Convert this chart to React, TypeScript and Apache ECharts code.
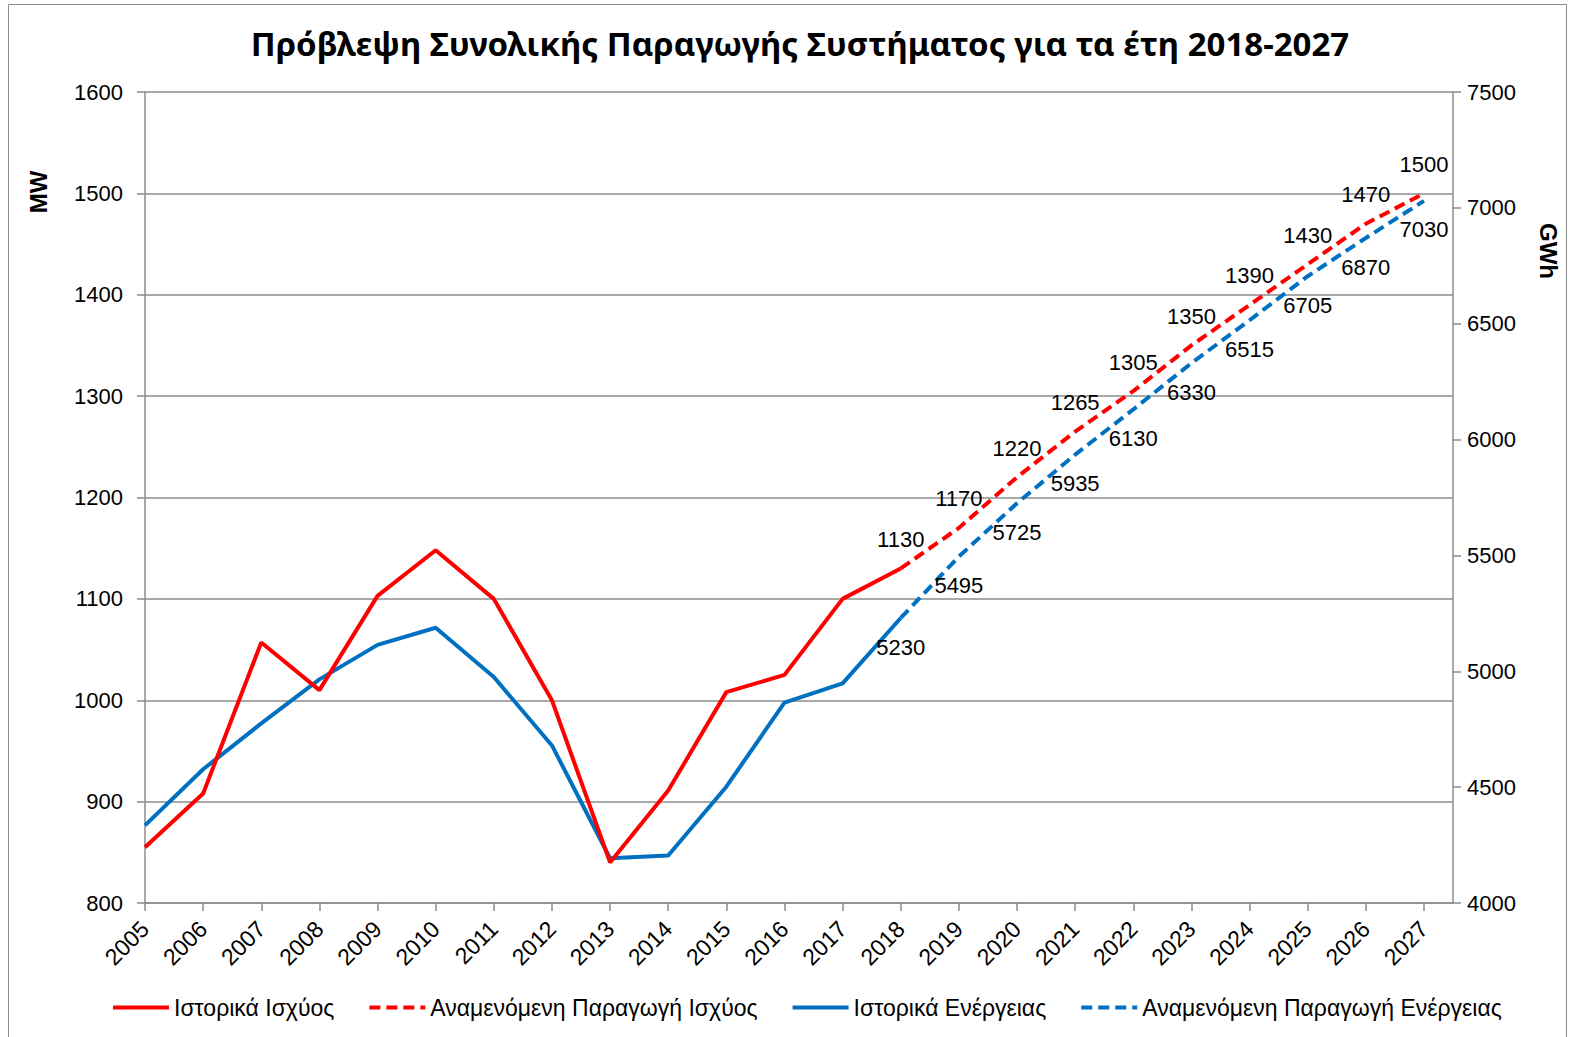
import React, { useEffect, useRef } from "react";
import * as echarts from "echarts";

const years = [2005, 2006, 2007, 2008, 2009, 2010, 2011, 2012, 2013, 2014, 2015, 2016, 2017, 2018, 2019, 2020, 2021, 2022, 2023, 2024, 2025, 2026, 2027];
const histYears = [2005, 2006, 2007, 2008, 2009, 2010, 2011, 2012, 2013, 2014, 2015, 2016, 2017, 2018];
const forecastYears = [2018, 2019, 2020, 2021, 2022, 2023, 2024, 2025, 2026, 2027];
const histPower = [855, 908, 1057, 1010, 1103, 1148, 1100, 1000, 840, 911, 1008, 1025, 1100, 1130];
const forecastPower = [1130, 1170, 1220, 1265, 1305, 1350, 1390, 1430, 1470, 1500];
const histEnergy = [4335, 4577, 4775, 4965, 5114, 5188, 4975, 4680, 4193, 4205, 4502, 4865, 4948, 5230];
const forecastEnergy = [5230, 5495, 5725, 5935, 6130, 6330, 6515, 6705, 6870, 7030];

const seriesNames = [
  "Ιστορικά Ισχύος",
  "Αναμενόμενη Παραγωγή Ισχύος",
  "Ιστορικά Ενέργειας",
  "Αναμενόμενη Παραγωγή Ενέργειας",
];
const titleText = "Πρόβλεψη Συνολικής Παραγωγής Συστήματος για τα έτη 2018-2027";

const RED = "#FF0000";
const BLUE = "#0070C0";
const GRAY = "#8c8c8c";
const FONT = "Liberation Sans, Arial, sans-serif";

const pairs = (xs: number[], ys: number[]) => xs.map((x, i) => [x, ys[i]]);

export default function App() {
  const ref = useRef<HTMLDivElement>(null);
  useEffect(() => {
    if (!ref.current) return;
    const chart = echarts.init(ref.current, null, { renderer: "svg" });
    const labelStyle = { fontFamily: FONT, fontSize: 22, color: "#000" };
    chart.setOption({
      animation: false,
      backgroundColor: "#fff",
      title: {
        text: titleText,
        left: 795,
        top: 22,
        textAlign: "center",
        textStyle: { fontFamily: "Noto Sans", fontWeight: "bold", fontSize: 33, color: "#000" },
      },
      graphic: [
        {
          type: "rect",
          shape: { x: 8.5, y: 4.5, width: 1558, height: 1040 },
          style: { fill: "none", stroke: GRAY, lineWidth: 1 },
          silent: true,
        },
        {
          type: "text",
          x: 38,
          y: 192,
          rotation: Math.PI / 2,
          style: { text: "MW", fontFamily: FONT, fontWeight: "bold", fontSize: 24, fill: "#000", align: "center", verticalAlign: "middle" },
        },
        {
          type: "text",
          x: 1548,
          y: 251,
          rotation: -Math.PI / 2,
          style: { text: "GWh", fontFamily: FONT, fontWeight: "bold", fontSize: 24, fill: "#000", align: "center", verticalAlign: "middle" },
        },
      ],
      legend: {
        top: 991,
        left: 106,
        itemWidth: 56,
        itemHeight: 4,
        itemGap: 33,
        itemStyle: { opacity: 0 },
        lineStyle: { width: 4 },
        textStyle: { fontFamily: FONT, fontSize: 23, color: "#000" },
        data: seriesNames,
      },
      grid: { left: 145, right: 121, top: 92, bottom: 134, containLabel: false },
      xAxis: {
        type: "value",
        min: 2005,
        max: 2027.5,
        interval: 1,
        splitLine: { show: false },
        axisLine: { lineStyle: { color: GRAY, width: 1.5 } },
        axisTick: { customValues: years, length: 8, lineStyle: { color: GRAY, width: 1.5 } },
        axisLabel: {
          customValues: years,
          rotate: 45,
          margin: 22,
          formatter: (v: number) => String(v),
          fontFamily: FONT,
          fontSize: 23,
          color: "#000",
        },
      },
      yAxis: [
        {
          type: "value",
          min: 800,
          max: 1600,
          interval: 100,
          axisLine: { show: true, lineStyle: { color: GRAY, width: 1.5 } },
          axisTick: { show: true, length: 8, lineStyle: { color: GRAY, width: 1.5 } },
          splitLine: { lineStyle: { color: GRAY, width: 1.5 } },
          axisLabel: { margin: 22, formatter: (v: number) => String(v), fontFamily: FONT, fontSize: 22, color: "#000" },
        },
        {
          type: "value",
          min: 4000,
          max: 7500,
          interval: 500,
          position: "right",
          axisLine: { show: true, lineStyle: { color: GRAY, width: 1.5 } },
          axisTick: { show: true, length: 8, lineStyle: { color: GRAY, width: 1.5 } },
          splitLine: { show: false },
          axisLabel: { margin: 14, formatter: (v: number) => String(v), fontFamily: FONT, fontSize: 22, color: "#000" },
        },
      ],
      series: [
        {
          name: seriesNames[0],
          type: "line",
          yAxisIndex: 0,
          data: pairs(histYears, histPower),
          symbol: "none",
          lineStyle: { color: RED, width: 4 },
          itemStyle: { color: RED },
          z: 3,
        },
        {
          name: seriesNames[1],
          type: "line",
          yAxisIndex: 0,
          data: pairs(forecastYears, forecastPower),
          symbol: "circle",
          symbolSize: 0.1,
          showSymbol: true,
          lineStyle: { color: RED, width: 4, type: [11, 6] },
          itemStyle: { color: RED },
          label: { show: true, position: "top", distance: 18, formatter: (p: any) => String(p.value[1]), ...labelStyle },
          z: 3,
        },
        {
          name: seriesNames[2],
          type: "line",
          yAxisIndex: 1,
          data: pairs(histYears, histEnergy),
          symbol: "none",
          lineStyle: { color: BLUE, width: 4 },
          itemStyle: { color: BLUE },
          z: 2,
        },
        {
          name: seriesNames[3],
          type: "line",
          yAxisIndex: 1,
          data: pairs(forecastYears, forecastEnergy),
          symbol: "circle",
          symbolSize: 0.1,
          showSymbol: true,
          lineStyle: { color: BLUE, width: 4, type: [11, 6] },
          itemStyle: { color: BLUE },
          label: { show: true, position: "bottom", distance: 18, formatter: (p: any) => String(p.value[1]), ...labelStyle },
          z: 2,
        },
      ],
    });
    return () => chart.dispose();
  }, []);
  return (
    <div
      ref={ref}
      style={{ position: "fixed", left: 0, top: 0, width: 1574, height: 1037 }}
    />
  );
}
